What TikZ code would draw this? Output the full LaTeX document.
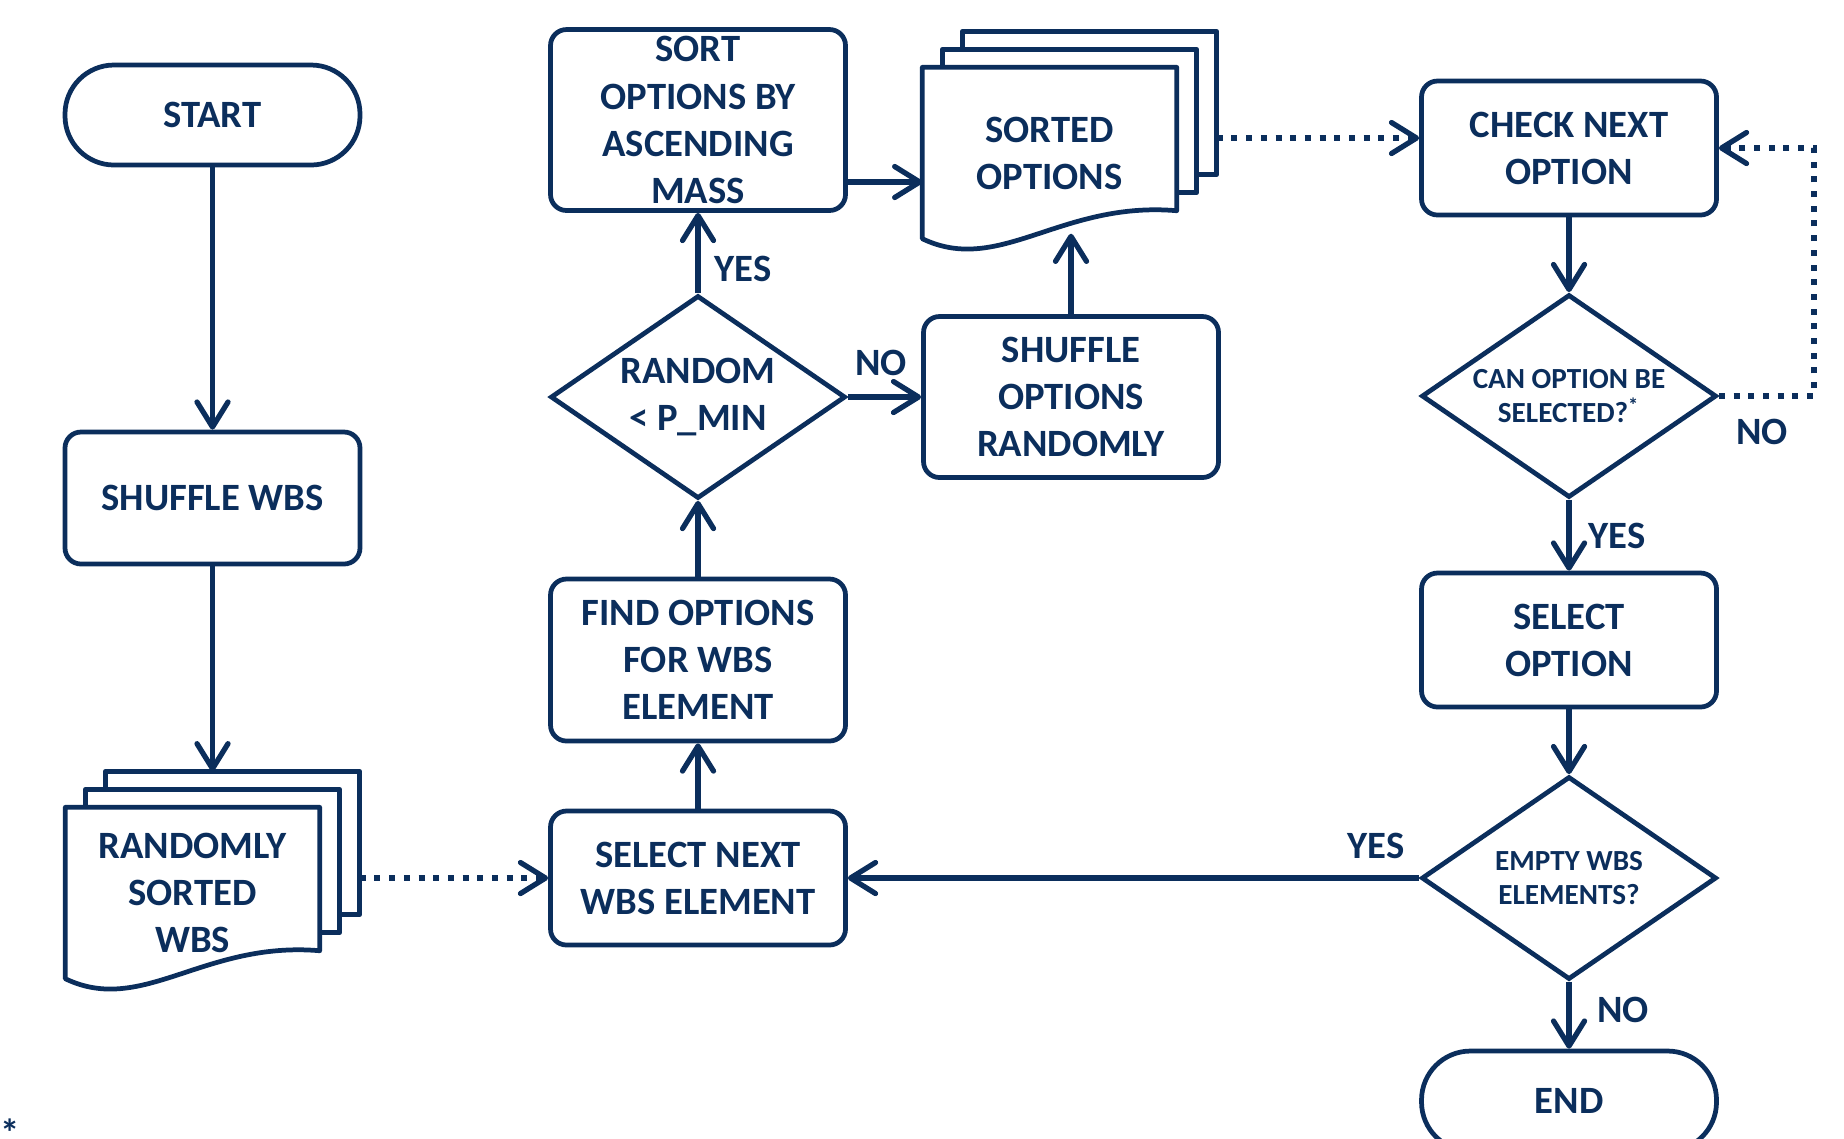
\documentclass[tikz,border=0pt]{standalone}
\usepackage{fontspec}
\setmainfont{Carlito}
\usetikzlibrary{positioning, arrows.meta, shapes.geometric, backgrounds}
\definecolor{navy}{HTML}{0B2E5C}
\tikzset{
  fblk/.style={draw=navy, line width=1.35pt, rounded corners=1.6mm, align=center, text=navy,
               font=\bfseries\fontsize{11}{13.4}\selectfont, minimum width=29.5mm, inner sep=2pt},
  fterm/.style={fblk, rounded corners=4.9mm, minimum height=10mm},
  fdec/.style={fblk, diamond, sharp corners, aspect=1.5, minimum width=29.5mm, minimum height=20.3mm,
               inner sep=0pt},
  fsmall/.style={font=\bfseries\fontsize{8.3}{9.8}\selectfont},
  fdoc/.style={align=center, text=navy, font=\bfseries\fontsize{11}{13.4}\selectfont,
               minimum width=25.3mm, minimum height=17mm, inner sep=0pt},
  fpage/.style={draw=navy, line width=1.35pt, fill=white, line join=round},
  farr/.style={-{Straight Barb[round, length=2.5mm, width=3.1mm, line width=1.5pt]}, draw=navy, line width=1.5pt},
  fdot/.style={farr, dash pattern=on 0.6mm off 0.87mm},
  flbl/.style={text=navy, font=\bfseries\fontsize{11}{13.4}\selectfont},
}

\begin{document}
\begin{tikzpicture}[x=0.1mm, y=-0.1mm]
  \useasboundingbox (0,0) rectangle (1844,1138);
  \clip (0,0) rectangle (1844,1138);

  % left column
  \node[fterm] (start) at (212.5,115) {START};
  \node[fblk, minimum height=13.2mm] (shufwbs) at (212.5,498) {SHUFFLE WBS};
  \node[fdoc] (wbsdoc) at (192.5,893) {RANDOMLY\\SORTED\\WBS};

  % middle column
  \node[fblk, minimum height=17.7mm] (sort) at (698,120) {SORT\\OPTIONS BY\\ASCENDING\\MASS};
  \node[fdec] (rnd) at (698,397) {RANDOM\\\textless{} P\_MIN};
  \node[fblk, minimum height=16.2mm] (find) at (698,660) {FIND OPTIONS\\FOR WBS\\ELEMENT};
  \node[fblk, minimum height=13.4mm] (selnext) at (698,878) {SELECT NEXT\\WBS ELEMENT};
  \node[fdoc] (optdoc) at (1049.5,153) {SORTED\\OPTIONS};
  \node[fblk, minimum height=16.1mm] (shufopt) at (1071,397) {SHUFFLE\\OPTIONS\\RANDOMLY};

  % right column
  \node[fblk, minimum height=13.4mm] (chk) at (1569,148) {CHECK NEXT\\OPTION};
  \node[fdec, fsmall] (can) at (1569,396) {CAN OPTION BE\\SELECTED?\smash{\textsuperscript{*}}};
  \node[fblk, minimum height=13.4mm] (selopt) at (1569,640) {SELECT\\OPTION};
  \node[fdec, fsmall] (empty) at (1569,878) {EMPTY WBS\\ELEMENTS?};
  \node[fterm] (end) at (1569,1101) {END};

  % stacked pages
  \begin{scope}[on background layer]
    \foreach \d in {wbsdoc, optdoc} {
      \foreach \k in {2,1}
        \draw[fpage] ([shift={(20*\k,-18*\k)}]\d.north west) rectangle ([shift={(20*\k,-18*\k-28)}]\d.south east);
      \draw[fpage] (\d.north west) -- (\d.south west)
        .. controls +(77,37) and +(-116,-10) .. ([shift={(0,-28)}]\d.south east) -- (\d.north east) -- cycle;
    }
  \end{scope}

  \coordinate (wbstop) at ([shift={(40,-36)}]wbsdoc.north west);
  \coordinate (wbsright) at ([shift={(40,-36)}]wbsdoc.north east);
  \coordinate (optright) at ([shift={(40,-15)}]optdoc.east);
  \coordinate (sortout) at ([shift={(0,62)}]sort.east);
  \coordinate (optbot) at ([shift={(0,-5)}]optdoc.south);

  \draw[farr] (start) -- (shufwbs);
  \draw[farr] (shufwbs) -- (shufwbs |- wbstop);
  \draw[fdot] (selnext.west -| wbsright) -- (selnext.west);
  \draw[farr] (selnext) -- (find);
  \draw[farr] (find) -- (rnd);
  \draw[farr] (rnd) -- (sort);
  \draw[farr] (rnd) -- (shufopt);
  \draw[farr] (sortout) -- (sortout -| optdoc.west);
  \draw[farr] (shufopt) -- (shufopt.north |- optbot);
  \draw[fdot] (optright) -- (optright -| chk.west);
  \draw[farr] (chk) -- (can);
  \draw[fdot] (can.east) -- ++(95,0) |- (chk.east);
  \draw[farr] (can) -- (selopt);
  \draw[farr] (selopt) -- (empty);
  \draw[farr] (empty) -- (selnext);
  \draw[farr] (empty) -- (end);

  % branch labels
  \node[flbl] (l1) at (743,269) {YES};
  \node[flbl] (l2) at (881,363) {NO};
  \node[flbl] (l3) at (1762,432) {NO};
  \node[flbl] (l4) at (1617,536) {YES};
  \node[flbl] (l5) at (1376,846) {YES};
  \node[flbl] (l6) at (1623,1010) {NO};
  \node[flbl, anchor=north, inner sep=0pt] (note) at (10,1118) {*};
\end{tikzpicture}
\end{document}
